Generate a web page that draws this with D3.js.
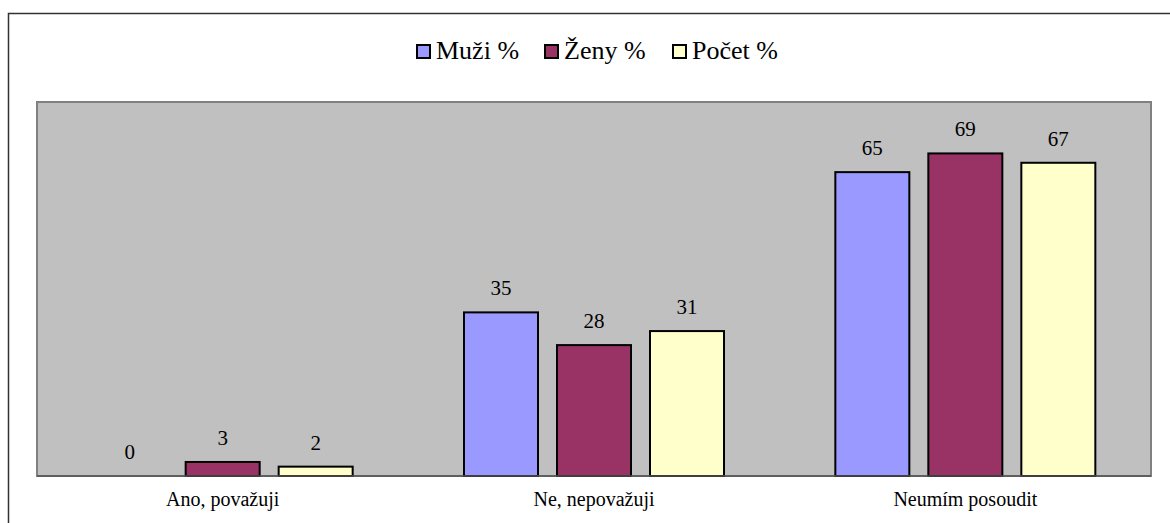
<!DOCTYPE html>
<html>
<head>
<meta charset="utf-8">
<script src="https://cdn.jsdelivr.net/npm/d3@7"></script>
<style>
body { margin: 0; background: #fff; }
svg text { font-family: "Liberation Serif", "Times New Roman", Times, serif; fill: #000; }
</style>
</head>
<body>
<svg id="chart" width="1170" height="523"></svg>
<script>
var categories = ["Ano, považuji", "Ne, nepovažuji", "Neumím posoudit"];
var seriesNames = ["Muži %", "Ženy %", "Počet %"];
var muzi = [0, 35, 65];
var zeny = [3, 28, 69];
var pocet = [2, 31, 67];
var colors = ["#9999ff", "#993366", "#ffffcc"];

var series = [muzi, zeny, pocet];

var svg = d3.select("#chart");

// outer frame
svg.append("rect")
  .attr("x", 8.5).attr("y", 13.5)
  .attr("width", 1170).attr("height", 530)
  .attr("fill", "none").attr("stroke", "#333").attr("stroke-width", 1.5);

var plot = { left: 37, top: 102, right: 1151, bottom: 476 };

var x0 = d3.scaleBand()
  .domain(categories)
  .range([plot.left, plot.right]);

var barW = 74, gap = 19;

var y = d3.scaleLinear()
  .domain([0, 80])
  .range([plot.bottom, plot.top]);

// plot area
svg.append("rect")
  .attr("x", plot.left).attr("y", plot.top)
  .attr("width", plot.right - plot.left).attr("height", plot.bottom - plot.top)
  .attr("fill", "#c0c0c0").attr("stroke", "#808080").attr("stroke-width", 2);

var g = svg.append("g");

series.forEach(function(vals, si) {
  var offset = (si - 1) * (barW + gap) - barW / 2;
  g.selectAll(".bar" + si)
    .data(vals)
    .enter().append("rect")
    .attr("x", function(d, i) { return x0(categories[i]) + x0.bandwidth() / 2 + offset; })
    .attr("y", function(d) { return y(d); })
    .attr("width", barW)
    .attr("height", function(d) { return y(0) - y(d); })
    .attr("fill", colors[si])
    .attr("stroke", "#000")
    .attr("stroke-width", function(d) { return d > 0 ? 2 : 0; });

  g.selectAll(".lab" + si)
    .data(vals)
    .enter().append("text")
    .attr("x", function(d, i) { return x0(categories[i]) + x0.bandwidth() / 2 + offset + barW / 2; })
    .attr("y", function(d) { return y(d) - 17; })
    .attr("text-anchor", "middle")
    .attr("font-size", 21)
    .text(function(d) { return d; });
});

// x axis line
svg.append("line")
  .attr("x1", plot.left).attr("x2", plot.right)
  .attr("y1", plot.bottom).attr("y2", plot.bottom)
  .attr("stroke", "#555").attr("stroke-width", 1.5);

svg.selectAll(".cat")
  .data(categories)
  .enter().append("text")
  .attr("x", function(d) { return x0(d) + x0.bandwidth() / 2; })
  .attr("y", 506)
  .attr("text-anchor", "middle")
  .attr("font-size", 20)
  .text(function(d) { return d; });

// legend
var legendX = [417, 545, 673];
var legend = svg.selectAll(".leg")
  .data(seriesNames)
  .enter().append("g")
  .attr("transform", function(d, i) { return "translate(" + legendX[i] + ",45)"; });

legend.append("rect")
  .attr("width", 13).attr("height", 13)
  .attr("fill", function(d, i) { return colors[i]; })
  .attr("stroke", "#000").attr("stroke-width", 2);

legend.append("text")
  .attr("x", 19).attr("y", 14)
  .attr("font-size", 26)
  .text(function(d) { return d; });
</script>
</body>
</html>
